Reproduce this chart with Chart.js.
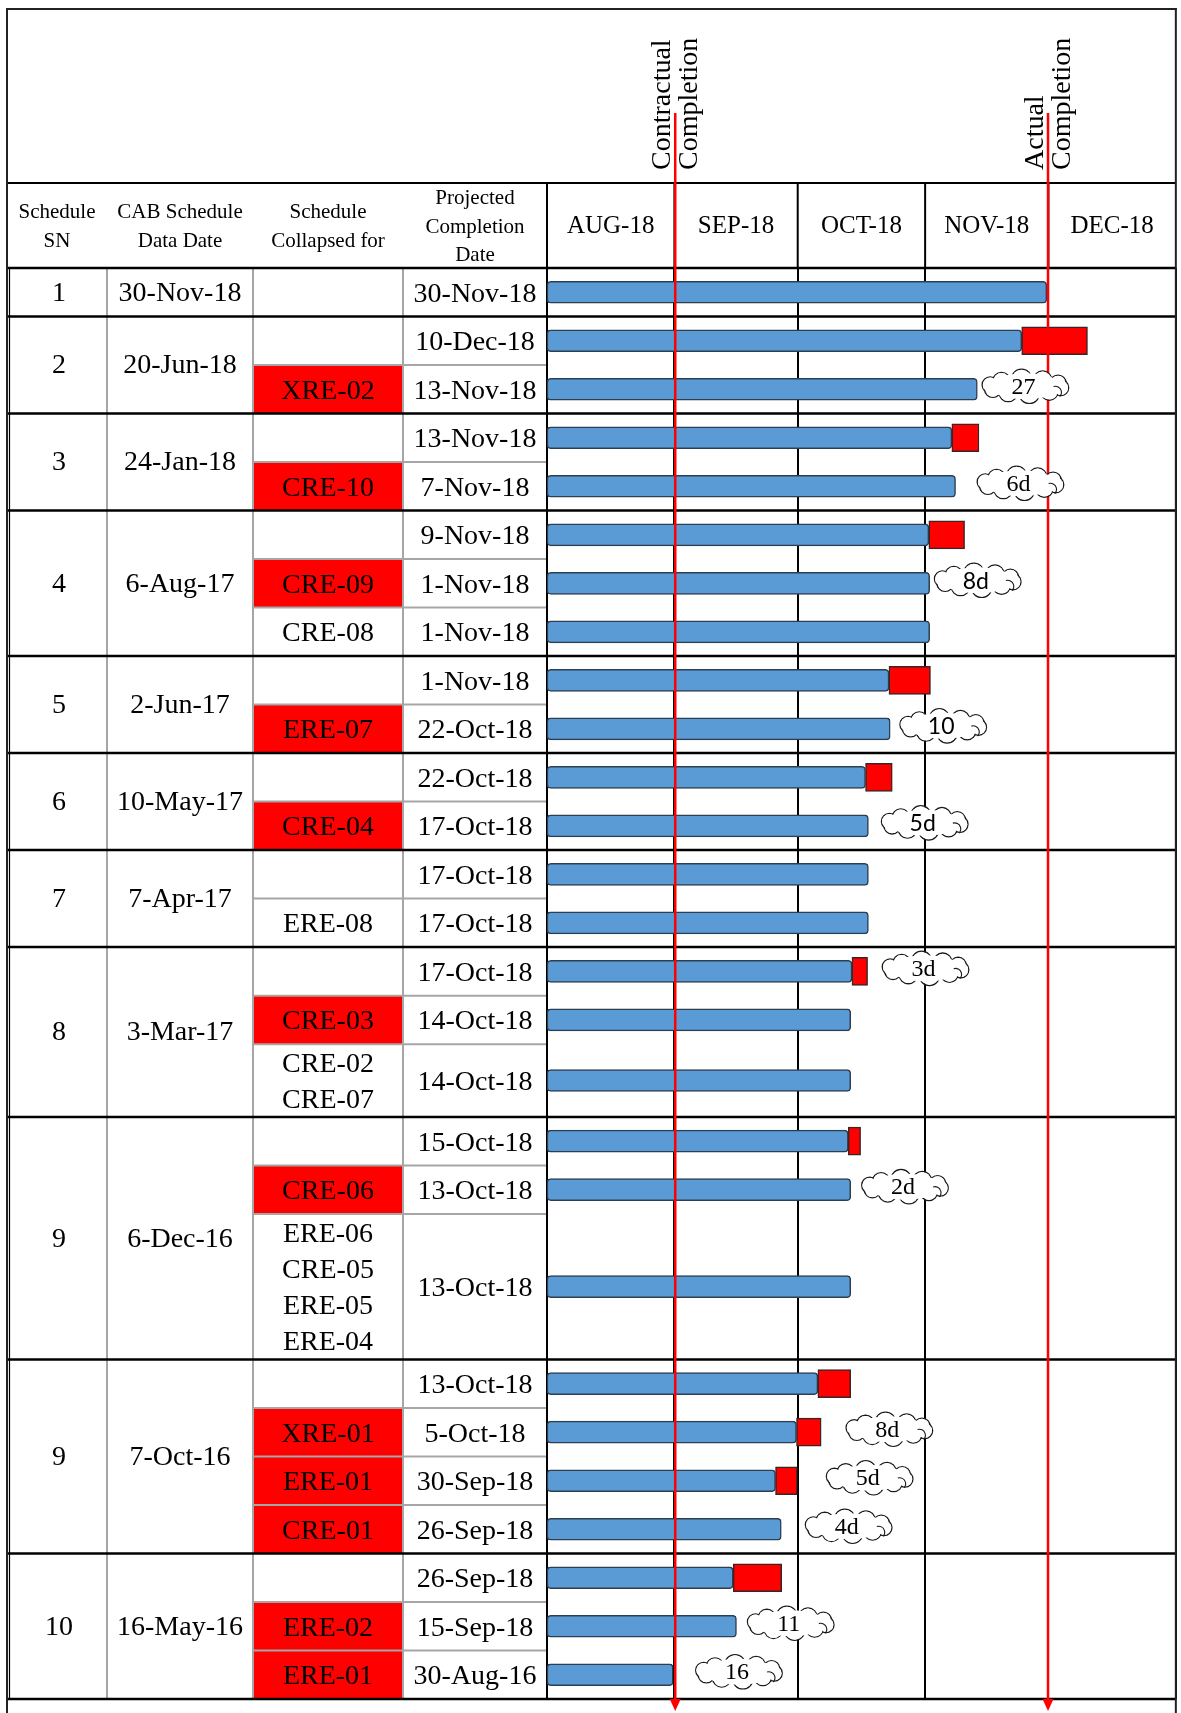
<!DOCTYPE html>
<html>
<head>
<meta charset="utf-8">
<style>
html,body{margin:0;padding:0;background:#fff;}
canvas{display:block;}
</style>
<script src="https://cdn.jsdelivr.net/npm/chart.js@4.4.1/dist/chart.umd.min.js"></script>
</head>
<body>
<canvas id="c" width="1181" height="1713"></canvas>
<script>
// ---------------- DATA ----------------
const columnHeaders = [['Schedule','SN'],['CAB Schedule','Data Date'],['Schedule','Collapsed for'],['Projected','Completion','Date']];
const scheduleSN = ['1','2','3','4','5','6','7','8','9','9','10'];
const cabDataDate = ['30-Nov-18','20-Jun-18','24-Jan-18','6-Aug-17','2-Jun-17','10-May-17','7-Apr-17','3-Mar-17','6-Dec-16','7-Oct-16','16-May-16'];
const schedulesPerGroup = [1,2,2,3,2,2,2,3,3,4,3];
const collapsedFor = ['','','XRE-02','','CRE-10','','CRE-09','CRE-08','','ERE-07','','CRE-04','','ERE-08','','CRE-03','CRE-02\nCRE-07','','CRE-06','ERE-06\nCRE-05\nERE-05\nERE-04','','XRE-01','ERE-01','CRE-01','','ERE-02','ERE-01'];
const collapsedCritical = [0,0,1,0,1,0,1,0,0,1,0,1,0,0,0,1,0,0,1,0,0,1,1,1,0,1,1];
const projectedCompletion = ['30-Nov-18','10-Dec-18','13-Nov-18','13-Nov-18','7-Nov-18','9-Nov-18','1-Nov-18','1-Nov-18','1-Nov-18','22-Oct-18','22-Oct-18','17-Oct-18','17-Oct-18','17-Oct-18','17-Oct-18','14-Oct-18','14-Oct-18','15-Oct-18','13-Oct-18','13-Oct-18','13-Oct-18','5-Oct-18','30-Sep-18','26-Sep-18','26-Sep-18','15-Sep-18','30-Aug-16'];
// days counted from 1-Aug-18
const barEndDay = [121.6,115.5,104.7,98.5,99.4,92.9,93.1,93.1,83.2,83.5,77.5,78.2,78.2,78.2,74.2,73.9,73.9,73.3,73.9,73.9,65.9,60.7,55.6,57.0,45.3,46.1,30.7];
const delayEndDay = [null,131.5,null,105.1,null,101.6,null,null,93.3,null,84.0,null,null,null,78.0,null,null,76.3,null,null,73.9,66.7,60.9,null,57.1,null,null];
const monthLabels = ['AUG-18','SEP-18','OCT-18','NOV-18','DEC-18'];
const monthStartDay = [0,31,61,92,122,153];
const milestoneDay = [31.2,121.9];
const milestoneLabel = [['Contractual','Completion'],['Actual','Completion']];
const cloudText = ['27','6d','8d','10','5d','3d','2d','8d','5d','4d','11','16'];
const cloudRow = [2,4,6,9,11,14,18,21,22,23,25,26];
const cloudDay = [116.4,115.2,104.8,96.4,91.9,92.1,87.1,83.3,78.5,73.4,59.3,46.7];

// ---------------- LAYOUT (derived) ----------------
const SERIF = '"Liberation Serif","Times New Roman",serif';
const SANS = 'Lato,"Liberation Sans",sans-serif';
const cloudSans = [false,false,true,true,true,false,false,false,false,false,false,false];
const COL = [7,107,253,403];
const subRowUnits = collapsedFor.map(t => Math.max(1, t.split('\n').length * 0.75));
const subRowTop = [];
let acc = 0;
subRowUnits.forEach(u => { subRowTop.push(acc); acc += u; });
const totalUnits = acc;
const subRowMid = subRowTop.map((t,i) => t + subRowUnits[i]/2);
const groupStart = [];
let gs = 0;
schedulesPerGroup.forEach(n => { groupStart.push(gs); gs += n; });

const blueData = barEndDay.map((e,i) => ({y: subRowMid[i], x: [0, e]}));
const redData = [];
delayEndDay.forEach((e,i) => { if (e != null) redData.push({y: subRowMid[i], x: [barEndDay[i], e]}); });

function hline(ctx, x0, x1, y, color, w) {
  ctx.beginPath(); ctx.strokeStyle = color; ctx.lineWidth = w;
  ctx.moveTo(x0, y); ctx.lineTo(x1, y); ctx.stroke();
}
function vline(ctx, x, y0, y1, color, w) {
  ctx.beginPath(); ctx.strokeStyle = color; ctx.lineWidth = w;
  ctx.moveTo(x, y0); ctx.lineTo(x, y1); ctx.stroke();
}
function drawCloud(ctx, cx, cy) {
  const rx = 34, ry = 7, n = 10;
  const circles = [];
  for (let k = 0; k < n; k++) {
    const a = k / n * 2 * Math.PI + 0.2;
    const side = Math.abs(Math.cos(a));
    const r = 10.5 - side * 2.5;
    circles.push([cx + (rx + side*2) * Math.cos(a), cy + ry * Math.sin(a), r]);
  }
  ctx.strokeStyle = '#1a1a1a';
  ctx.lineWidth = 1.3;
  circles.forEach(([x, y, r]) => { ctx.beginPath(); ctx.arc(x, y, r, 0, 2*Math.PI); ctx.stroke(); });
  ctx.fillStyle = '#fff';
  circles.forEach(([x, y, r]) => { ctx.beginPath(); ctx.arc(x, y, r - 0.7, 0, 2*Math.PI); ctx.fill(); });
  ctx.beginPath(); ctx.ellipse(cx, cy, rx + 2, ry + 6, 0, 0, 2*Math.PI); ctx.fill();
  ctx.lineWidth = 1.1;
  ctx.beginPath(); ctx.arc(cx + 30, cy + 6, 6, -Math.PI*0.6, Math.PI*0.25); ctx.stroke();
}

const tablePlugin = {
  id: 'scheduleTable',
  beforeDraw(chart) {
    const {ctx, scales: {y}} = chart;
    ctx.save();
    ctx.fillStyle = '#fff';
    ctx.fillRect(0, 0, chart.width, chart.height);
    ctx.fillStyle = '#FF0000';
    collapsedCritical.forEach((c,i) => {
      if (!c) return;
      const t = y.getPixelForValue(subRowTop[i]);
      const b = y.getPixelForValue(subRowTop[i] + subRowUnits[i]);
      ctx.fillRect(COL[2], t, COL[3]-COL[2], b-t);
    });
    ctx.restore();
  },
  beforeDatasetsDraw(chart) {
    const {ctx, chartArea: ca, scales: {x, y}} = chart;
    const right = ca.right, hTop = 183;
    ctx.save();
    for (let i = 0; i < collapsedFor.length; i++) {
      if (groupStart.includes(i)) continue;
      hline(ctx, COL[2], ca.left, y.getPixelForValue(subRowTop[i]), '#A6A6A6', 2);
    }
    [COL[1], COL[2], COL[3]].forEach(cx => vline(ctx, cx, ca.top, ca.bottom, '#A6A6A6', 2));
    hline(ctx, COL[0], right, hTop, '#000', 2);
    hline(ctx, COL[0], right, ca.top, '#000', 2.5);
    schedulesPerGroup.forEach((n,g) => {
      const last = groupStart[g] + n - 1;
      hline(ctx, COL[0], right, y.getPixelForValue(subRowTop[last] + subRowUnits[last]), '#000', 2.5);
    });
    vline(ctx, ca.left, hTop, ca.bottom, '#000', 2);
    monthStartDay.slice(1, -1).forEach(d => vline(ctx, x.getPixelForValue(d), hTop, ca.top, '#000', 2));
    hline(ctx, COL[0]-1, right+1, 9, '#222', 2);
    vline(ctx, COL[0], 8, chart.height, '#222', 2);
    vline(ctx, COL[0]+2.5, ca.top, ca.bottom, '#000', 1.2);
    vline(ctx, right, 8, chart.height, '#222', 2);

    ctx.fillStyle = '#000';
    ctx.textAlign = 'center';
    ctx.textBaseline = 'middle';
    ctx.font = '21px ' + SERIF;
    const colRight = [COL[1], COL[2], COL[3], ca.left];
    columnHeaders.forEach((lines,c) => {
      const cx = (COL[c] + colRight[c]) / 2;
      lines.forEach((t,k) => ctx.fillText(t, cx, 227 + (k - (lines.length-1)/2) * 28.5));
    });
    ctx.font = '28px ' + SERIF;
    schedulesPerGroup.forEach((n,g) => {
      const first = groupStart[g], last = first + n - 1;
      const t = y.getPixelForValue(subRowTop[first]);
      const b = y.getPixelForValue(subRowTop[last] + subRowUnits[last]);
      const cy = (t + b) / 2 + 1;
      ctx.fillText(scheduleSN[g], (COL[0]+COL[1])/2 + 2, cy);
      ctx.fillText(cabDataDate[g], (COL[1]+COL[2])/2, cy);
    });
    collapsedFor.forEach((txt,i) => {
      const cy = y.getPixelForValue(subRowMid[i]) + 2;
      const lines = txt ? txt.split('\n') : [];
      lines.forEach((t,k) => ctx.fillText(t, (COL[2]+COL[3])/2, cy + (k - (lines.length-1)/2) * 36));
      ctx.fillText(projectedCompletion[i], (COL[3]+ca.left)/2, cy);
    });
    ctx.restore();
  },
  afterDatasetsDraw(chart) {
    const {ctx, chartArea: ca, scales: {x, y}} = chart;
    ctx.save();
    milestoneDay.forEach((d,i) => {
      const X = x.getPixelForValue(d);
      vline(ctx, X, 113, ca.bottom + 1, '#FF0000', 2.5);
      ctx.beginPath();
      ctx.fillStyle = '#FF0000';
      ctx.moveTo(X - 5.5, ca.bottom); ctx.lineTo(X + 5.5, ca.bottom); ctx.lineTo(X, ca.bottom + 12);
      ctx.closePath(); ctx.fill();
      ctx.fillStyle = '#000';
      ctx.font = '28px ' + SERIF;
      ctx.textAlign = 'left';
      ctx.textBaseline = 'alphabetic';
      const offs = [-5, 22];
      milestoneLabel[i].forEach((t,k) => {
        ctx.save();
        ctx.translate(X + offs[k], 170);
        ctx.rotate(-Math.PI/2);
        ctx.fillText(t, 0, 0);
        ctx.restore();
      });
    });
    cloudText.forEach((t,i) => {
      const cx = x.getPixelForValue(cloudDay[i]);
      const cy = y.getPixelForValue(subRowMid[cloudRow[i]]) - 3;
      drawCloud(ctx, cx, cy);
      ctx.fillStyle = '#000';
      ctx.textAlign = 'center';
      ctx.textBaseline = 'middle';
      ctx.font = (cloudSans[i] ? '23px ' + SANS : '24px ' + SERIF);
      ctx.fillText(t, cx - 2, cy + 1);
    });
    ctx.restore();
  }
};

new Chart(document.getElementById('c'), {
  type: 'bar',
  data: {
    datasets: [
      {label: 'Delay', data: redData, backgroundColor: '#FF0000', borderColor: '#3a2424', borderWidth: 1.5, borderSkipped: false, barThickness: 28, grouped: false, order: 0},
      {label: 'Projected', data: blueData, backgroundColor: '#5B9BD5', borderColor: '#2D3E50', borderWidth: 1.5, borderRadius: 4, borderSkipped: false, barThickness: 22, grouped: false, order: 1}
    ]
  },
  options: {
    indexAxis: 'y',
    responsive: false,
    animation: false,
    devicePixelRatio: 1,
    layout: {padding: {left: 547, right: 2, top: 183, bottom: 14}},
    plugins: {legend: {display: false}, tooltip: {enabled: false}},
    scales: {
      x: {
        type: 'linear', position: 'top', min: 0, max: 153,
        grid: {display: false, drawTicks: false},
        border: {display: false},
        ticks: {autoSkip: false, maxRotation: 0, padding: 27, color: '#000', font: {family: SERIF, size: 25},
          callback: (v, i) => monthLabels[i]},
        afterBuildTicks: sc => { sc.ticks = monthLabels.map((m,i) => ({value: (monthStartDay[i] + monthStartDay[i+1]) / 2})); },
        afterFit: sc => { sc.height = 85; }
      },
      x2: {
        type: 'linear', position: 'bottom', min: 0, max: 153,
        ticks: {display: false},
        grid: {color: '#000', lineWidth: 2, drawTicks: false},
        border: {display: false},
        afterBuildTicks: sc => { sc.ticks = monthStartDay.map(v => ({value: v})); },
        afterFit: sc => { sc.height = 0; }
      },
      y: {type: 'linear', min: 0, max: totalUnits, reverse: true, display: false, offset: false, grid: {offset: false}}
    }
  },
  plugins: [tablePlugin]
});
</script>
</body>
</html>
